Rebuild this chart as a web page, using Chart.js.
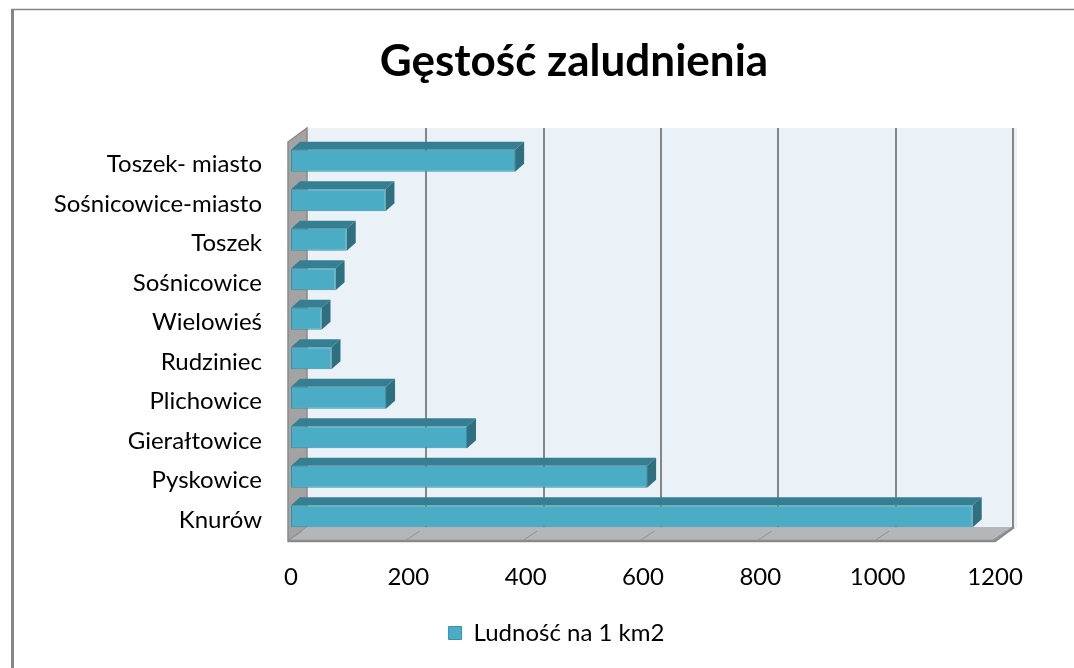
<!DOCTYPE html>
<html>
<head>
<meta charset="utf-8">
<script src="https://cdn.jsdelivr.net/npm/chart.js@4"></script>
<style>
  html, body { margin: 0; padding: 0; background: #fff; }
  #chart { display: block; }
</style>
</head>
<body>
<canvas id="chart" width="1074" height="668"></canvas>
<script>
// dane
const categories = ['Toszek- miasto', 'Sośnicowice-miasto', 'Toszek', 'Sośnicowice', 'Wielowieś',
  'Rudziniec', 'Plichowice', 'Gierałtowice', 'Pyskowice', 'Knurów'];
const density = [382, 161, 95, 76, 52, 69, 162, 300, 607, 1162];
const xTicks = [0, 200, 400, 600, 800, 1000, 1200];
const titleText = 'Gęstość zaludnienia';
const seriesName = 'Ludność na 1 km2';

const FONT = 'Lato, "Open Sans", sans-serif';
const DEPTH = { dx: 19, dy: -14 };   // głębokość ścian
const BAR_DEPTH = { dx: 9, dy: -8 }; // głębokość słupków

// ramka wykresu i tytuł
const framePlugin = {
  id: 'frame',
  beforeDraw: (chart) => {
    const ctx = chart.ctx;
    ctx.save();
    ctx.fillStyle = '#fff';
    ctx.fillRect(0, 0, chart.width, chart.height);
    ctx.strokeStyle = '#868686';
    ctx.lineWidth = 3;
    ctx.beginPath();
    ctx.moveTo(12.5, 9);
    ctx.lineTo(12.5, chart.height);
    ctx.stroke();
    ctx.lineWidth = 1.5;
    ctx.beginPath();
    ctx.moveTo(11, 9.5);
    ctx.lineTo(chart.width, 9.5);
    ctx.stroke();

    ctx.fillStyle = '#000';
    ctx.font = `bold 44px ${FONT}`;
    ctx.textAlign = 'center';
    ctx.textBaseline = 'middle';
    ctx.fillText(titleText, 574, 62);
    ctx.restore();
  }
};

// ściany 3D i boki słupków
const walls3dPlugin = {
  id: 'walls3d',
  beforeDatasetsDraw: (chart) => {
    const ctx = chart.ctx;
    const x = chart.scales.x;
    const area = chart.chartArea;
    const fx0 = x.getPixelForValue(xTicks[0]) - 3;
    const fx1 = x.getPixelForValue(xTicks[xTicks.length - 1]);
    const fyTop = area.top + 1;
    const fyBot = area.bottom + 5;
    const { dx, dy } = DEPTH;

    ctx.save();
    // tylna ściana
    ctx.fillStyle = '#EAF1F7';
    ctx.fillRect(fx0 + dx, fyTop + dy, fx1 - fx0 + 3, fyBot - fyTop);

    // linie siatki
    ctx.strokeStyle = '#878787';
    ctx.lineWidth = 2;
    xTicks.slice(1).forEach(v => {
      const px = Math.round(x.getPixelForValue(v) + dx - 1);
      ctx.beginPath();
      ctx.moveTo(px, fyTop + dy);
      ctx.lineTo(px, fyBot + dy);
      ctx.stroke();
    });

    // lewa ściana
    ctx.fillStyle = '#A3A3A3';
    ctx.beginPath();
    ctx.moveTo(fx0, fyTop);
    ctx.lineTo(fx0 + dx, fyTop + dy);
    ctx.lineTo(fx0 + dx, fyBot + dy);
    ctx.lineTo(fx0, fyBot);
    ctx.closePath();
    ctx.fill();
    ctx.strokeStyle = '#8A8A8A';
    ctx.lineWidth = 1.5;
    ctx.stroke();

    // podłoga
    ctx.fillStyle = '#B4B7BA';
    ctx.beginPath();
    ctx.moveTo(fx0, fyBot);
    ctx.lineTo(fx0 + dx, fyBot + dy);
    ctx.lineTo(fx1 + dx, fyBot + dy);
    ctx.lineTo(fx1, fyBot);
    ctx.closePath();
    ctx.fill();
    ctx.strokeStyle = '#8A8A8A';
    ctx.lineWidth = 2.5;
    ctx.beginPath();
    ctx.moveTo(fx0, fyBot);
    ctx.lineTo(fx1, fyBot);
    ctx.lineTo(fx1 + dx, fyBot + dy);
    ctx.stroke();

    // siatka na podłodze
    ctx.strokeStyle = '#8F9295';
    ctx.lineWidth = 1;
    xTicks.forEach(v => {
      const px = x.getPixelForValue(v) - 2;
      ctx.beginPath();
      ctx.moveTo(px, fyBot - 1);
      ctx.lineTo(px + dx * 0.7, fyBot + dy * 0.7);
      ctx.stroke();
    });

    // góra i bok słupków
    const meta = chart.getDatasetMeta(0);
    meta.data.forEach(bar => {
      const { x: end, y, base, height } = bar.getProps(['x', 'y', 'base', 'height'], true);
      const top = y - height / 2;
      const bottom = y + height / 2;
      const bx = BAR_DEPTH.dx, by = BAR_DEPTH.dy;
      ctx.fillStyle = '#367F92';
      ctx.beginPath();
      ctx.moveTo(base, top);
      ctx.lineTo(base + bx, top + by);
      ctx.lineTo(end + bx, top + by);
      ctx.lineTo(end, top);
      ctx.closePath();
      ctx.fill();
      ctx.fillStyle = '#2E6F80';
      ctx.beginPath();
      ctx.moveTo(end, top);
      ctx.lineTo(end + bx, top + by);
      ctx.lineTo(end + bx, bottom + by);
      ctx.lineTo(end, bottom);
      ctx.closePath();
      ctx.fill();
    });
    ctx.restore();
  }
};

const ctx = document.getElementById('chart').getContext('2d');
new Chart(ctx, {
  type: 'bar',
  data: {
    labels: categories,
    datasets: [{
      label: seriesName,
      data: density,
      backgroundColor: '#4BACC6',
      borderColor: '#3A90A7',
      borderWidth: 1,
      borderSkipped: false,
      barPercentage: 0.56,
      categoryPercentage: 1
    }]
  },
  options: {
    indexAxis: 'y',
    responsive: false,
    animation: false,
    layout: { padding: { left: 40, right: 1, top: 141, bottom: 13 } },
    scales: {
      x: {
        min: 0,
        max: 1200,
        afterBuildTicks: (scale) => { scale.ticks = xTicks.map(v => ({ value: v })); },
        afterFit: (scale) => { scale.height = 75; },
        grid: { display: false, drawTicks: false },
        border: { display: false },
        ticks: {
          color: '#000', padding: 27, maxRotation: 0,
          font: { family: FONT, size: 24 },
          callback: (v) => String(v)
        }
      },
      y: {
        afterFit: (scale) => { scale.width = 251; },
        grid: { display: false, drawTicks: false },
        border: { display: false },
        ticks: { color: '#000', padding: 29, labelOffset: 4, font: { family: FONT, size: 24 } }
      },
      // pusta oś po prawej, tylko rezerwuje miejsce
      yr: {
        position: 'right',
        afterFit: (scale) => { scale.width = 78; },
        grid: { display: false, drawTicks: false },
        border: { display: false },
        ticks: { display: false }
      }
    },
    plugins: {
      title: { display: false },
      legend: {
        position: 'bottom',
        labels: {
          color: '#000',
          boxWidth: 13,
          boxHeight: 13,
          padding: 10,
          font: { family: FONT, size: 24 }
        }
      },
      tooltip: { enabled: false }
    }
  },
  plugins: [framePlugin, walls3dPlugin]
});
</script>
</body>
</html>
